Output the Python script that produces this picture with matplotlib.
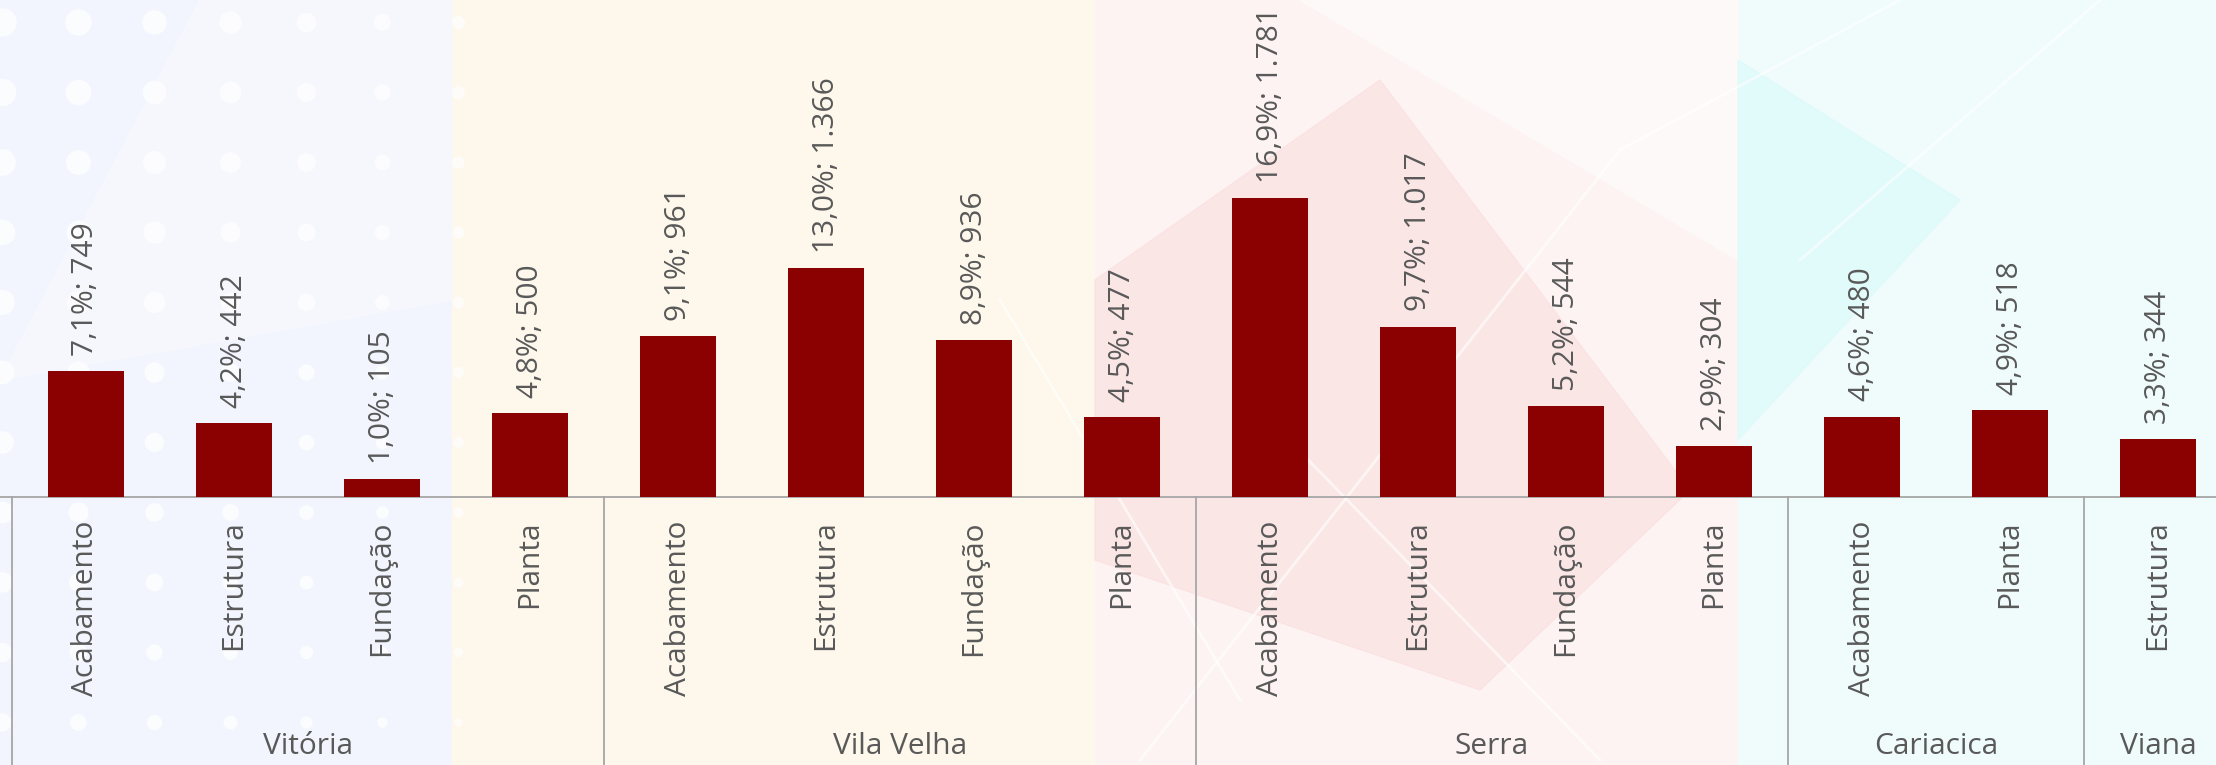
import numpy as np
import matplotlib.pyplot as plt
from matplotlib.patches import Polygon

# data
groups = ["Vitória", "Vila Velha", "Serra", "Cariacica", "Viana"]
group_items = [
    ["Acabamento", "Estrutura", "Fundação", "Planta"],
    ["Acabamento", "Estrutura", "Fundação", "Planta"],
    ["Acabamento", "Estrutura", "Fundação", "Planta"],
    ["Acabamento", "Planta"],
    ["Estrutura"],
]
values = [749, 442, 105, 500, 961, 1366, 936, 477, 1781, 1017, 544, 304, 480, 518, 344]
percents = ["7,1%", "4,2%", "1,0%", "4,8%", "9,1%", "13,0%", "8,9%", "4,5%",
            "16,9%", "9,7%", "5,2%", "2,9%", "4,6%", "4,9%", "3,3%"]
value_labels = ["749", "442", "105", "500", "961", "1.366", "936", "477",
                "1.781", "1.017", "544", "304", "480", "518", "344"]

plt.rcParams['font.family'] = ['Open Sans', 'DejaVu Sans']
TXT = "#595959"
BAR = "#8b0000"
LINE = "#a6a6a6"
FS = 21.5

W, H = 2216, 765
fig = plt.figure(figsize=(W / 100, H / 100), dpi=100)

# decorative background in pixel coordinates
bg = fig.add_axes([0, 0, 1, 1])
bg.set_xlim(0, W)
bg.set_ylim(H, 0)
bg.axis("off")
bands = [(0, 452, "#f2f5fd"), (452, 1095, "#fef8ec"), (1095, 1738, "#fdf3f3"), (1738, W, "#f0fcfc")]
for x0, x1, c in bands:
    bg.axvspan(x0, x1, color=c, zorder=0)
# soft diagonal shapes
bg.add_patch(Polygon([[1300, 0], [1738, 0], [1738, 260]],
                     closed=True, color="#fefafa", zorder=1, alpha=0.9))
bg.add_patch(Polygon([[1095, 280], [1380, 80], [1690, 490], [1480, 690], [1095, 560]],
                     closed=True, color="#fbdcdc", zorder=1, alpha=0.55))
bg.add_patch(Polygon([[1738, 440], [1960, 200], [1738, 60]],
                     closed=True, color="#dcfafa", zorder=1, alpha=0.7))
bg.add_patch(Polygon([[0, 380], [200, 0], [452, 0], [452, 300]],
                     closed=True, color="#f7f9fe", zorder=1, alpha=0.7))
for (xa, ya, xb, yb) in [(1140, 760, 1620, 150), (1250, 400, 1600, 760), (1800, 260, 2100, 0),
                         (1620, 150, 1900, 0), (1000, 300, 1240, 700)]:
    bg.plot([xa, xb], [ya, yb], color="white", lw=2.0, alpha=0.6, zorder=2)
# white dots top-left
for i in range(11):
    for j in range(7):
        s = max(0, 420 - 55 * j) * (1 - 0.06 * i)
        if s > 5:
            bg.scatter(76 * j + 2, 22 + 70 * i, s=s, color="white", alpha=0.7, zorder=2, lw=0)

# main chart
base_px = 497
ax = fig.add_axes([0, (H - base_px) / H, 1, base_px / H])
ax.patch.set_alpha(0)
step_px = 148
first_px = 86
x = np.arange(len(values))
ax.set_xlim(-first_px / step_px, (W - first_px) / step_px)
ax.set_ylim(0, 2965)
ax.bar(x, values, width=0.51, color=BAR, zorder=3)
for s in ["top", "right", "left"]:
    ax.spines[s].set_visible(False)
ax.spines["bottom"].set_color(LINE)
ax.spines["bottom"].set_linewidth(1.3)
ax.set_xticks([])
ax.set_yticks([])

for xi, v, p, lab in zip(x, values, percents, value_labels):
    ax.annotate(f"{p}; {lab}", (xi, v), xytext=(0, 11), textcoords="offset points",
                rotation=90, ha="center", va="bottom", fontsize=FS, color=TXT)

# category and group labels
items = [it for g in group_items for it in g]
for xi, it in zip(x, items):
    ax.annotate(it, (xi, 0), xycoords=("data", "axes fraction"), xytext=(0, -17),
                textcoords="offset points", rotation=90, ha="center", va="top",
                fontsize=FS, color=TXT)

start = 0
bounds = [-0.5]
for g, its in zip(groups, group_items):
    n = len(its)
    centre = start + (n - 1) / 2
    ax.annotate(g, (centre, 0), xycoords=("data", "axes fraction"), xytext=(0, -180),
                textcoords="offset points", ha="center", va="center",
                fontsize=FS, color=TXT, annotation_clip=False)
    start += n
    bounds.append(start - 0.5)
for b in bounds:
    ax.plot([b, b], [0, -0.6], transform=ax.get_xaxis_transform(), color=LINE,
            lw=1.3, clip_on=False)

fig.savefig("out.png", dpi=100)
